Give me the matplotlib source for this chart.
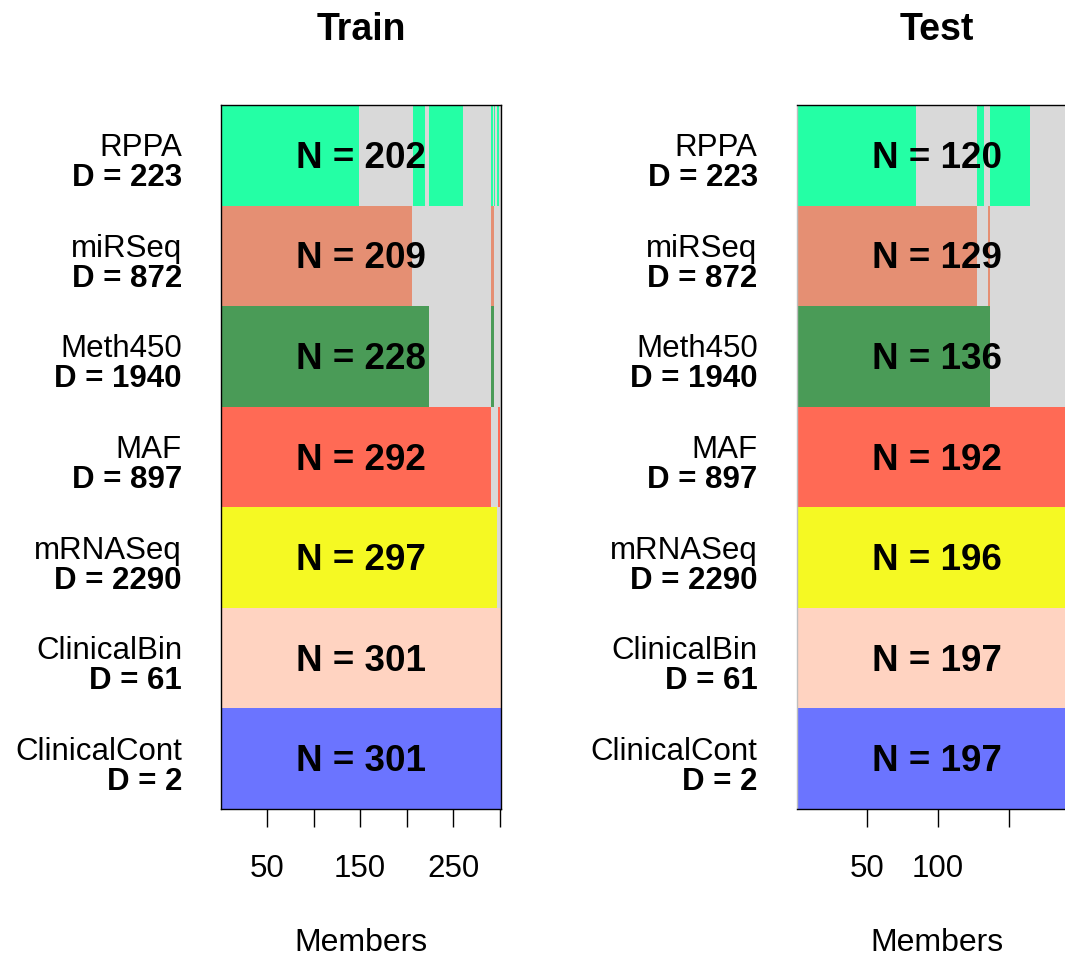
import numpy as np
import matplotlib
matplotlib.use("Agg")
import matplotlib.pyplot as plt
from matplotlib.transforms import offset_copy

plt.rcParams['font.family'] = ['Liberation Sans', 'DejaVu Sans']

# modalities, top to bottom
modalities = ["RPPA", "miRSeq", "Meth450", "MAF", "mRNASeq", "ClinicalBin", "ClinicalCont"]
dims = [223, 872, 1940, 897, 2290, 61, 2]
colors = ["#24FFA5", "#E58F73", "#4A9B57", "#FF6A55", "#F5F923", "#FFD3C1", "#6B74FF"]
missing_color = "#D9D9D9"

# members present in each modality, as (first, last) runs of member index
train_total = 301
train_runs = [
    [(1, 148), (207, 219), (225, 260), (291, 292), (295, 295), (298, 299)],
    [(1, 205), (291, 294)],
    [(1, 224), (291, 294)],
    [(1, 290), (299, 300)],
    [(1, 297)],
    [(1, 301)],
    [(1, 301)],
]

test_total = 197
test_runs = [
    [(1, 84), (128, 132), (137, 164), (190, 192)],
    [(1, 127), (136, 136), (195, 195)],
    [(1, 136)],
    [(1, 192)],
    [(1, 196)],
    [(1, 197)],
    [(1, 197)],
]

train_ticks = [50, 100, 150, 200, 250, 300]
train_ticklabels = ["50", "", "150", "", "250", ""]
test_ticks = [50, 100, 150]
test_ticklabels = ["50", "100", ""]

DPI = 100
fig = plt.figure(figsize=(10.65, 9.57), dpi=DPI)


def draw_panel(ax, title, runs, total, ticks, ticklabels):
    n_rows = len(modalities)
    for i, (name, d, col, row_runs) in enumerate(zip(modalities, dims, colors, runs)):
        y = n_rows - 1 - i
        # missing members in gray, present ones coloured on top
        ax.barh(y, total, left=0.5, height=1.0, color=missing_color, linewidth=0)
        n_present = 0
        for a, b in row_runs:
            ax.barh(y, b - a + 1, left=a - 0.5, height=1.0, color=col, linewidth=0)
            n_present += b - a + 1

        # member count in the middle of the row
        tr = offset_copy(ax.transData, fig=fig, x=0, y=-12.5, units='dots')
        ax.text((total + 1) / 2, y, f"N = {n_present}", transform=tr,
                ha='center', va='baseline', fontsize=26.5, fontweight='bold')

        # modality name and dimension on the left
        ytr = ax.get_yaxis_transform()
        tr1 = offset_copy(ytr, fig=fig, x=-39, y=-1, units='dots')
        tr2 = offset_copy(ytr, fig=fig, x=-39, y=-31, units='dots')
        ax.text(0, y, name, transform=tr1, ha='right', va='baseline', fontsize=22.5)
        ax.text(0, y, f"D = {d}", transform=tr2, ha='right', va='baseline',
                fontsize=22.5, fontweight='bold')

    ax.set_xlim(0.5, total + 0.5)
    ax.set_ylim(-0.5, n_rows - 0.5)
    ax.set_yticks([])
    ax.set_xticks(ticks)
    ax.set_xticklabels(ticklabels)
    ax.tick_params(axis='x', direction='out', length=13, width=1.0,
                   pad=19.5, labelsize=22.5)
    for s in ax.spines.values():
        s.set_linewidth(1.0)

    ax.text(0.5, 1.0923, title, transform=ax.transAxes, ha='center',
            va='baseline', fontsize=27, fontweight='bold')
    ax.text(0.5, -0.201, "Members", transform=ax.transAxes, ha='center',
            va='baseline', fontsize=23)


W, H = 1065, 957
ax1 = fig.add_axes([221 / W, 1 - 809 / H, 280 / W, 704 / H])
draw_panel(ax1, "Train", train_runs, train_total, train_ticks, train_ticklabels)

# the test panel runs past the right edge of the figure
ax2 = fig.add_axes([796.7 / W, 1 - 809 / H, 279.8 / W, 704 / H])
draw_panel(ax2, "Test", test_runs, test_total, test_ticks, test_ticklabels)
ax2.spines['left'].set_color('#BEBEBE')

fig.savefig("out.png", dpi=DPI)
